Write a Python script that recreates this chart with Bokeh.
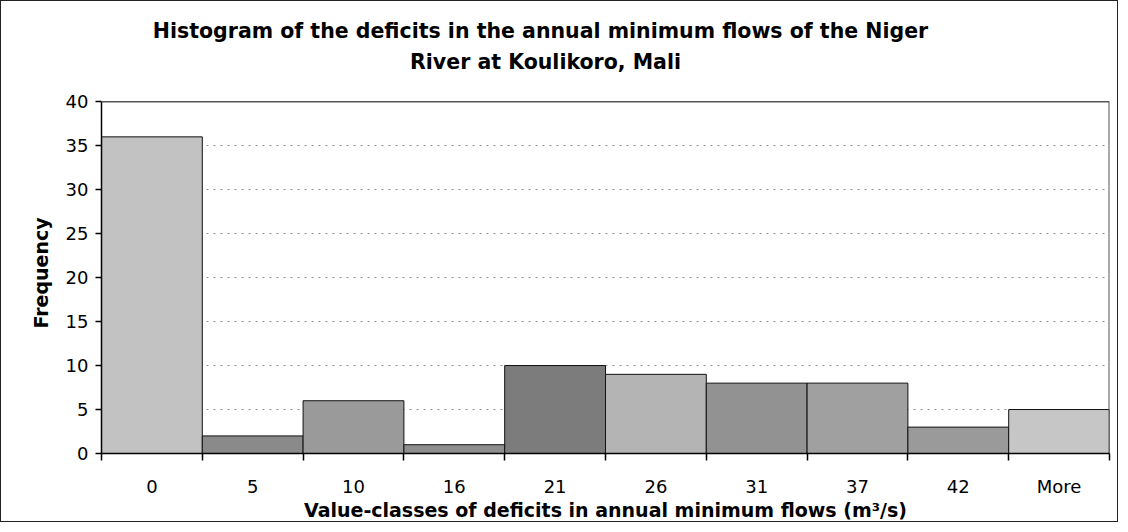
from bokeh.plotting import figure
from bokeh.models import ColumnDataSource, FixedTicker, Range1d, Label, Span
from bokeh.embed import file_html
from bokeh.resources import INLINE

# ---- data ----
categories = ["0", "5", "10", "16", "21", "26", "31", "37", "42", "More"]
frequency = [36, 2, 6, 1, 10, 9, 8, 8, 3, 5]
bar_colors = ["#c2c2c2", "#8a8a8a", "#9a9a9a", "#8e8e8e", "#7c7c7c",
              "#b4b4b4", "#929292", "#a0a0a0", "#9a9a9a", "#c6c6c6"]
y_ticks = [0, 5, 10, 15, 20, 25, 30, 35, 40]
y_max = 40

title_line1 = "Histogram of the deficits in the annual minimum flows of the Niger"
title_line2 = "River at Koulikoro, Mali"
x_title = "Value-classes of deficits in annual minimum flows (m\u00b3/s)"
y_title = "Frequency"

FONT = "DejaVu Sans"

n = len(categories)
centers = [i + 0.5 for i in range(n)]
edges = list(range(n + 1))

src = ColumnDataSource(dict(x=centers, top=frequency, color=bar_colors, cat=categories))

# the frame extends upward to hold the title; the chart area itself is 0..y_max
TOP_EXTRA = 10.82
p = figure(width=1118, height=522, output_backend="svg", toolbar_location=None,
           x_range=Range1d(0, n), y_range=Range1d(0, y_max + TOP_EXTRA),
           min_border_left=100, min_border_right=10, min_border_top=5, min_border_bottom=69,
           title=None)
p.styles = {"border": "1px solid #222"}

p.vbar(x="x", top="top", width=1, bottom=0, fill_color="color",
       line_color="#111111", line_width=1, source=src)

# grid
p.xgrid.visible = False
p.ygrid.ticker = FixedTicker(ticks=y_ticks)
p.ygrid.grid_line_color = "#8c8c8c"
p.ygrid.grid_line_dash = "2 5"
p.ygrid.grid_line_width = 1

# plot-area border (top and right edges)
p.add_layout(Span(location=y_max, dimension="width", line_color="#555555", line_width=1.5))
p.segment(x0=[n], y0=[0], x1=[n], y1=[y_max], line_color="#555555", line_width=2)

# two-line chart title
for txt, tx, ty in [(title_line1, 4.355, 48.05), (title_line2, 4.405, 44.5)]:
    p.add_layout(Label(x=tx, y=ty, x_units="data", y_units="data", text=txt,
                       text_align="center", text_baseline="middle",
                       text_font=FONT, text_font_size="20.5px",
                       text_font_style="bold", text_color="black"))

# x axis
xa = p.xaxis[0]
xa.ticker = FixedTicker(ticks=centers, minor_ticks=edges)
xa.major_label_overrides = {c: lab for c, lab in zip(centers, categories)}
xa.major_tick_out = 0
xa.major_tick_in = 0
xa.minor_tick_out = 7
xa.minor_tick_in = 0
xa.minor_tick_line_color = "black"
xa.minor_tick_line_width = 1.5
xa.axis_line_color = "black"
xa.axis_line_width = 1.5
xa.major_label_text_font = FONT
xa.major_label_text_font_size = "18px"
xa.major_label_text_color = "black"
xa.major_label_standoff = 15
xa.axis_label = x_title
xa.axis_label_text_font = FONT
xa.axis_label_text_font_size = "19px"
xa.axis_label_text_font_style = "bold"
xa.axis_label_text_color = "black"
xa.axis_label_standoff = -1

# y axis
ya = p.yaxis[0]
ya.bounds = (0, y_max)
ya.ticker = FixedTicker(ticks=y_ticks)
ya.major_tick_out = 6
ya.major_tick_in = 0
ya.minor_tick_out = 0
ya.minor_tick_in = 0
ya.major_tick_line_color = "black"
ya.major_tick_line_width = 1.5
ya.axis_line_color = "black"
ya.axis_line_width = 1.5
ya.major_label_text_font = FONT
ya.major_label_text_font_size = "18px"
ya.major_label_text_color = "black"
ya.major_label_standoff = 7
# trailing no-break spaces shift the label down to the middle of the 0..40 area
ya.axis_label = y_title + "\u00a0" * 13
ya.axis_label_text_font = FONT
ya.axis_label_text_font_size = "19px"
ya.axis_label_text_font_style = "bold"
ya.axis_label_text_color = "black"
ya.axis_label_standoff = 11

p.outline_line_color = None
p.background_fill_color = "white"
p.border_fill_color = "white"

open("out.html", "w").write(file_html(p, INLINE))
